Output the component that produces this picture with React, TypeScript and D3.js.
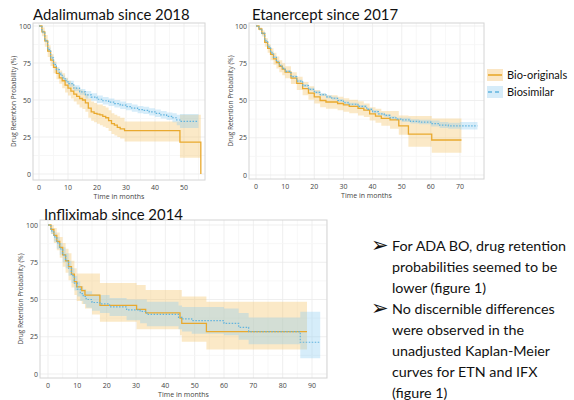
import { useEffect, useRef } from 'react';
import * as d3 from 'd3';

// [month, estimate, lower CI, upper CI]
const adaBO = [
  [0, 100, 100, 100], [1, 96, 93, 99], [2, 90, 86, 94], [3, 83, 79, 87], [4, 77, 73, 81],
  [5, 72, 68, 76], [6, 68, 64, 72], [7, 65, 61, 70], [8, 63, 58, 68], [9, 60, 55, 65],
  [10, 58, 53, 63], [11, 56, 51, 61], [12, 54, 49, 59], [13, 52.5, 47, 58], [14, 51, 45, 57],
  [15, 50, 44, 56], [16, 48, 42, 54], [17, 44.5, 38, 51], [18, 42, 36, 49], [19, 41, 35, 48],
  [20, 40.5, 34, 47], [21, 40, 33, 47], [22, 39, 32, 46], [23, 38, 31, 45], [24, 36, 29, 43],
  [25, 34, 27, 41], [26, 33, 26, 40], [27, 31.5, 25, 39], [28, 30.5, 24, 38], [29.5, 29.3, 22, 35.5],
  [48.6, 21.5, 11, 40], [55.8, 0, 11, 40],
];
const adaBS = [
  [0, 100, 100, 100], [1, 96, 95, 97], [2, 90, 89, 91], [3, 84, 82.5, 85.5], [4, 78.5, 77, 80],
  [5, 74, 72.5, 75.5], [6, 70.5, 69, 72], [7, 67.5, 66, 69], [8, 65, 63.5, 66.5], [9, 63, 61.5, 64.5],
  [10, 61, 59, 63], [12, 58, 56, 60], [14, 55.5, 53.5, 57.5], [16, 53.5, 51, 56], [18, 52, 49.5, 54.5],
  [20, 50.5, 48, 53], [22, 49.5, 47, 52], [24, 48.5, 46, 51], [26, 47.5, 45, 50], [28, 46.5, 44, 49],
  [30, 45.5, 43, 48], [32, 44.5, 42, 47], [34, 43.5, 41, 46], [36, 43, 40.5, 45.5], [38, 42, 39.5, 44.5],
  [40, 41, 38.5, 43.5], [42, 40, 37.5, 42.5], [44, 39, 36.5, 41.5], [46, 38, 35, 41], [47.5, 36.5, 33, 40],
  [48.6, 35.5, 31, 40.5], [55, 35.5, 31, 40.5],
];
const etnBO = [
  [0, 100, 100, 100], [1, 98, 97, 99], [2, 95, 93, 97], [3, 89, 86, 92], [4, 85, 82, 88],
  [5, 81, 77, 85], [6, 78, 74, 82], [7, 75.5, 71.5, 79.5], [8, 73, 69, 77], [9, 71, 67, 75],
  [10, 69, 65, 73], [12, 65, 61, 69], [14, 61.5, 57, 66], [16, 58, 53.5, 62.5], [18, 55, 50.5, 59.5],
  [20, 52.5, 48, 57], [22, 50, 45.5, 54.5], [24, 49, 44.5, 53.5], [26, 49, 44.5, 53.5], [28, 48, 43.5, 52.5],
  [30, 47, 42.5, 51.5], [32, 46, 41.5, 50.5], [35, 44.7, 40, 49.5], [37, 43.5, 39, 48], [39, 41, 36.5, 45.5],
  [41, 39.5, 35, 44.5], [43, 38, 33, 43], [46, 37, 31, 43], [49, 33, 27, 40], [52.3, 27.5, 19, 39.6],
  [60.3, 23.5, 15, 38], [70.5, 23.5, 15, 38],
];
const etnBS = [
  [0, 100, 100, 100], [1, 98, 97.5, 98.5], [2, 95, 94, 96], [3, 90, 89, 91], [4, 86, 85, 87],
  [5, 82, 81, 83], [6, 79, 78, 80], [7, 76, 75, 77], [8, 73.5, 72.5, 74.5], [9, 71.5, 70.5, 72.5],
  [10, 69.5, 68.5, 70.5], [12, 66, 65, 67], [14, 63, 62, 64], [16, 60, 59, 61], [18, 57.5, 56.5, 58.5],
  [20, 55.5, 54.5, 56.5], [22, 54, 53, 55], [24, 52.5, 51.5, 53.5], [26, 51.5, 50.5, 52.5], [28, 50, 49, 51],
  [30, 48.5, 47.5, 49.5], [32, 47.5, 46.5, 48.5], [35, 46, 45, 47], [38, 44, 43, 45], [40, 42.5, 41.5, 43.5],
  [42, 41, 40, 42], [44, 40, 39, 41], [46, 38.5, 37.5, 39.5], [48, 37.5, 36.5, 38.5], [50, 37, 35.5, 38.5],
  [53, 36, 34.5, 37.5], [56, 35.5, 34, 37], [60, 34.5, 32.5, 36.5], [63, 33.5, 31.5, 35.5], [66, 33, 31, 35],
  [70, 33, 30.5, 35.5], [76, 33, 30.5, 35.5],
];
const ifxBO = [
  [0, 100, 100, 100], [1, 97, 94, 100], [2, 93, 88, 98], [3, 89, 83, 95], [4, 85, 78, 92],
  [5, 80, 72, 88], [6, 76, 68, 84], [7, 72, 63, 81], [8, 67, 58, 76], [9, 62, 53, 71],
  [9.8, 58.5, 49, 67.5], [11.5, 56, 47, 67.5], [12.6, 53, 44, 67.5], [15, 53, 40, 67.5], [17.7, 46, 35, 61],
  [30.2, 43.4, 30, 59.7], [33.3, 41, 30, 56.4], [45, 37.5, 26, 56.4], [45.6, 34, 21.7, 52], [54, 28.4, 16.5, 48.5],
  [88.3, 28.4, 16.5, 48.5],
];
const ifxBS = [
  [0, 100, 100, 100], [1, 96, 94, 98], [2, 92, 89, 95], [3, 88, 84, 92], [4, 84, 80, 88],
  [5, 80, 75, 85], [6, 76, 71, 81], [7, 71, 66, 76], [8, 66, 61, 71], [9, 61, 56, 66],
  [10, 57, 52, 62], [11, 54, 49, 59], [12, 52, 47, 57], [13, 50, 44.5, 55.5], [15, 48, 42.5, 53.5],
  [17.7, 47, 41, 53], [21, 45, 39, 51], [26.8, 43, 36, 50], [31.4, 42, 34, 50], [33.7, 40, 32, 48.5],
  [44.5, 38, 30, 46], [45.7, 37, 28.5, 45], [49, 35.8, 27, 45], [60, 34, 26, 44], [65, 31.3, 23, 41],
  [68.4, 28.4, 20, 38], [86, 21.3, 10.5, 41.8], [92.8, 21.3, 10.5, 41.8],
];

const adaTicks = [0, 10, 20, 30, 40, 50];
const etnTicks = [0, 10, 20, 30, 40, 50, 60, 70];
const ifxTicks = [0, 10, 20, 30, 40, 50, 60, 70, 80, 90];
const yTicks = [0, 25, 50, 75, 100];
const legendLabels = ['Bio-originals', 'Biosimilar'];
const bullets = [
  ['For ADA BO, drug retention', 'probabilities seemed to be', 'lower (figure 1)'],
  ['No discernible differences', 'were observed in the', 'unadjusted Kaplan-Meier', 'curves for ETN and IFX', '(figure 1)'],
];

const ORANGE = '#E9A92E';
const BLUE = '#62B4DE';
const TICK_FONT = '"Open Sans", "DejaVu Sans", sans-serif';
const TITLE_FONT = 'Lato, "Open Sans", sans-serif';

const panels = [
  { id: 'ada', title: 'Adalimumab since 2018', rect: [33, 23, 205, 180], xr: [39, 184], xMax: 50, yr: [174, 26],
    ticks: adaTicks, bo: adaBO, bs: adaBS, tx: 33, ty: 20, yTitleX: 16 },
  { id: 'etn', title: 'Etanercept since 2017', rect: [249, 23, 484, 179], xr: [256, 460], xMax: 70, yr: [175, 26],
    ticks: etnTicks, bo: etnBO, bs: etnBS, tx: 252, ty: 20, yTitleX: 233 },
  { id: 'ifx', title: 'Infliximab since 2014', rect: [40, 220, 327, 378], xr: [48, 312], xMax: 90, yr: [374, 225],
    ticks: ifxTicks, bo: ifxBO, bs: ifxBS, tx: 44, ty: 220, yTitleX: 23 },
];

function App() {
  const ref = useRef<SVGSVGElement>(null);

  useEffect(() => {
    const svg = d3.select(ref.current);
    svg.selectAll('*').remove();

    panels.forEach(p => {
      const [l, t, r, b] = p.rect;
      const x = d3.scaleLinear().domain([0, p.xMax]).range(p.xr);
      const y = d3.scaleLinear().domain([0, 100]).range(p.yr);
      const g = svg.append('g');

      g.append('clipPath').attr('id', `clip-${p.id}`)
        .append('rect').attr('x', l).attr('y', t).attr('width', r - l).attr('height', b - t);

      // grid (major + minor)
      const xStep = 5;
      const xLo = Math.ceil(x.invert(l) / xStep) * xStep;
      const xs = d3.range(xLo, x.invert(r), xStep);
      g.selectAll('line.gx').data(xs).enter().append('line')
        .attr('x1', d => x(d)).attr('x2', d => x(d)).attr('y1', t).attr('y2', b)
        .attr('stroke', d => d % 10 === 0 ? '#ebebeb' : '#f5f5f5').attr('stroke-width', 0.8);
      const ys = d3.range(0, 101, 12.5);
      g.selectAll('line.gy').data(ys).enter().append('line')
        .attr('x1', l).attr('x2', r).attr('y1', d => y(d)).attr('y2', d => y(d))
        .attr('stroke', d => d % 25 === 0 ? '#ebebeb' : '#f5f5f5').attr('stroke-width', 0.8);

      const plot = g.append('g').attr('clip-path', `url(#clip-${p.id})`);
      const area = d3.area<number[]>().curve(d3.curveStepAfter)
        .x(d => x(d[0])).y0(d => y(d[2])).y1(d => y(d[3]));
      const line = d3.line<number[]>().curve(d3.curveStepAfter)
        .x(d => x(d[0])).y(d => y(d[1]));

      plot.append('path').attr('d', area(p.bo)).attr('fill', '#F6C774').attr('fill-opacity', 0.4);
      plot.append('path').attr('d', area(p.bs)).attr('fill', '#8ACBF0').attr('fill-opacity', 0.35);
      plot.append('path').attr('d', line(p.bo)).attr('fill', 'none').attr('stroke', ORANGE).attr('stroke-width', 1.3);
      plot.append('path').attr('d', line(p.bs)).attr('fill', 'none').attr('stroke', BLUE)
        .attr('stroke-width', 1.2).attr('stroke-dasharray', '1.5,1.5');

      g.append('rect').attr('x', l).attr('y', t).attr('width', r - l).attr('height', b - t)
        .attr('fill', 'none').attr('stroke', '#d4d4d4').attr('stroke-width', 1);

      // axes labels
      g.selectAll('text.xt').data(p.ticks).enter().append('text')
        .attr('x', d => x(d)).attr('y', b + 10).attr('text-anchor', 'middle')
        .style('font-family', TICK_FONT).style('font-size', '7px').style('fill', '#444')
        .text(d => d);
      g.selectAll('text.yt').data(yTicks).enter().append('text')
        .attr('x', l - 2).attr('y', d => y(d) + 2.5).attr('text-anchor', 'end')
        .style('font-family', TICK_FONT).style('font-size', '7px').style('fill', '#444')
        .text(d => d);
      g.append('text').attr('x', (l + r) / 2).attr('y', b + 19).attr('text-anchor', 'middle')
        .style('font-family', TICK_FONT).style('font-size', '7px').style('fill', '#444')
        .text('Time in months');
      g.append('text').attr('transform', `translate(${p.yTitleX},${(t + b) / 2}) rotate(-90)`)
        .attr('text-anchor', 'middle')
        .style('font-family', TICK_FONT).style('font-size', '6.5px').style('fill', '#444')
        .text('Drug Retention Probability  (%)');

      g.append('text').attr('x', p.tx).attr('y', p.ty)
        .style('font-family', TITLE_FONT).style('font-size', '14.9px').style('fill', '#111')
        .text(p.title);
    });

    // legend
    const leg = svg.append('g').attr('transform', 'translate(487,75)');
    legendLabels.forEach((lab, i) => {
      const row = leg.append('g').attr('transform', `translate(0,${i * 17})`);
      row.append('rect').attr('x', 0).attr('y', -6).attr('width', 16).attr('height', 12)
        .attr('fill', i === 0 ? '#FBE6C4' : '#D6ECF9');
      row.append('line').attr('x1', 1).attr('x2', 15).attr('y1', 0).attr('y2', 0)
        .attr('stroke', i === 0 ? ORANGE : BLUE).attr('stroke-width', 1.6)
        .attr('stroke-dasharray', i === 0 ? null : '4,3');
      row.append('text').attr('x', 20).attr('y', 4)
        .style('font-family', TITLE_FONT).style('font-size', '11px').style('fill', '#111')
        .text(lab);
    });

    // bullet text
    const tb = svg.append('g');
    let line = 0;
    bullets.forEach(b => {
      tb.append('text').attr('x', 371).attr('y', 252 + line * 21)
        .style('font-family', '"DejaVu Sans", sans-serif').style('font-size', '21px').style('fill', '#111')
        .text('\u27A2');
      b.forEach(s => {
        tb.append('text').attr('x', 392).attr('y', 251 + line * 21)
          .style('font-family', TITLE_FONT).style('font-size', '14.3px').style('fill', '#111')
          .text(s);
        line++;
      });
    });
  }, []);

  return (
    <svg ref={ref} width={574} height={400}
      style={{ position: 'absolute', left: 0, top: 0, background: '#fff' }} />
  );
}

export default App;
